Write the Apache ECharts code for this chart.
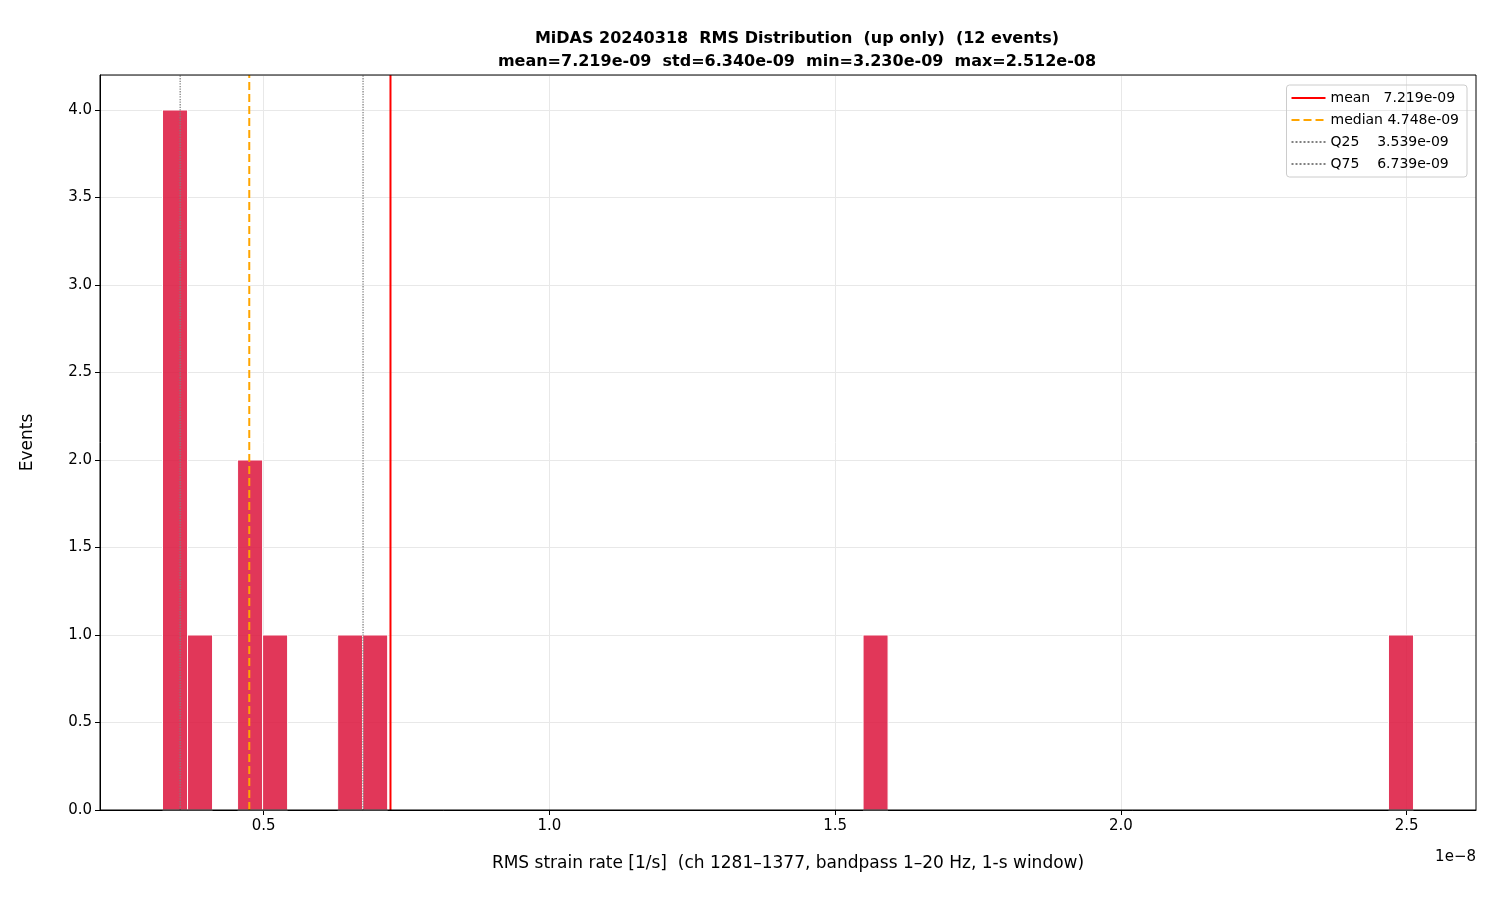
<!DOCTYPE html>
<html><head><meta charset="utf-8">
<script src="https://cdn.jsdelivr.net/npm/echarts@6/dist/echarts.min.js"></script>
<style>html,body{margin:0;background:#fff}#c{width:1500px;height:900px}</style>
</head><body><div id="c"></div>
<script>
// values in units of 1e-8
const binMin = 0.3230, binMax = 2.512, nBins = 50;
const binIndex = [0, 1, 3, 4, 7, 8, 28, 49];
const binCounts = [4, 1, 2, 1, 1, 1, 1, 1];
const statNames = ['mean   7.219e-09', 'median 4.748e-09', 'Q25    3.539e-09', 'Q75    6.739e-09'];
const statValues = [0.7219, 0.4748, 0.3539, 0.6739];
const statColors = ['#ff0000', '#ffa500', '#808080', '#808080'];
const statTypes = ['solid', 'dashed', 'dotted', 'dotted'];
const xTicks = [0.5, 1.0, 1.5, 2.0, 2.5];

const w = (binMax - binMin) / nBins;
const bars = binIndex.map((b, i) => [binMin + b * w, binMin + (b + 1) * w, binCounts[i]]);
const F = 'DejaVu Sans';
const chart = echarts.init(document.getElementById('c'));
const statSeries = statNames.map((n, i) => ({
  name: n, type: 'line', symbol: 'none', z: 5,
  data: [[statValues[i], 0], [statValues[i], 4.2]],
  lineStyle: { color: statColors[i], type: statTypes[i], width: i < 2 ? 2 : 1.3 },
  itemStyle: { color: statColors[i] }
}));
chart.setOption({
  animation: false,
  textStyle: { fontFamily: F },
  title: {
    text: 'MiDAS 20240318  RMS Distribution  (up only)  (12 events)\nmean=7.219e-09  std=6.340e-09  min=3.230e-09  max=2.512e-08',
    left: 792, textAlign: 'center', top: 22,
    textStyle: { fontFamily: F, fontSize: 16, fontWeight: 'bold', color: '#000', lineHeight: 23 }
  },
  grid: { left: 100, right: 24, top: 75, bottom: 90 },
  legend: {
    right: 33, top: 85, orient: 'vertical', itemGap: 8, itemWidth: 34, itemHeight: 14,
    borderColor: '#ccc', borderWidth: 1, borderRadius: 3, padding: [6, 8, 6, 4],
    itemStyle: { opacity: 0 },
    textStyle: { fontFamily: F, fontSize: 14, color: '#000' },
    data: statNames
  },
  xAxis: {
    type: 'value', min: 0.2136, max: 2.6214,
    name: 'RMS strain rate [1/s]  (ch 1281\u20131377, bandpass 1\u201320 Hz, 1-s window)',
    nameLocation: 'middle', nameGap: 45,
    nameTextStyle: { fontFamily: F, fontSize: 17, color: '#000' },
    axisLine: { lineStyle: { color: '#000' } },
    axisTick: { show: true, customValues: xTicks, length: 5, lineStyle: { color: '#000' } },
    axisLabel: { customValues: xTicks, fontFamily: F, fontSize: 15, color: '#000', margin: 9, formatter: v => v.toFixed(1) },
    splitLine: { show: true, lineStyle: { color: '#e8e8e8' } }
  },
  yAxis: {
    type: 'value', min: 0, max: 4.2, interval: 0.5,
    name: 'Events', nameLocation: 'middle', nameGap: 64,
    nameTextStyle: { fontFamily: F, fontSize: 17, color: '#000' },
    axisLine: { show: true, lineStyle: { color: '#000' } },
    axisTick: { show: true, length: 5, lineStyle: { color: '#000' } },
    axisLabel: { fontFamily: F, fontSize: 15, color: '#000', formatter: v => v.toFixed(1), showMaxLabel: false },
    splitLine: { show: true, lineStyle: { color: '#e8e8e8' } }
  },
  graphic: [
    { type: 'rect', shape: { x: 100, y: 75, width: 1376, height: 735 }, style: { fill: 'none', stroke: '#000', lineWidth: 1 }, silent: true, z: 10 },
    { type: 'text', right: 24, top: 850, style: { text: '1e\u22128', font: '15px DejaVu Sans', fill: '#000' } }
  ],
  series: [{
    type: 'custom', data: bars, z: 2,
    encode: { x: [0, 1], y: 2 },
    renderItem: (params, api) => {
      const p0 = api.coord([api.value(0), api.value(2)]);
      const p1 = api.coord([api.value(1), 0]);
      return { type: 'rect', shape: { x: p0[0], y: p0[1], width: p1[0] - p0[0], height: p1[1] - p0[1] },
        style: { fill: 'rgba(220,20,60,0.85)', stroke: '#fff', lineWidth: 1 } };
    }
  }].concat(statSeries)
});
</script></body></html>
